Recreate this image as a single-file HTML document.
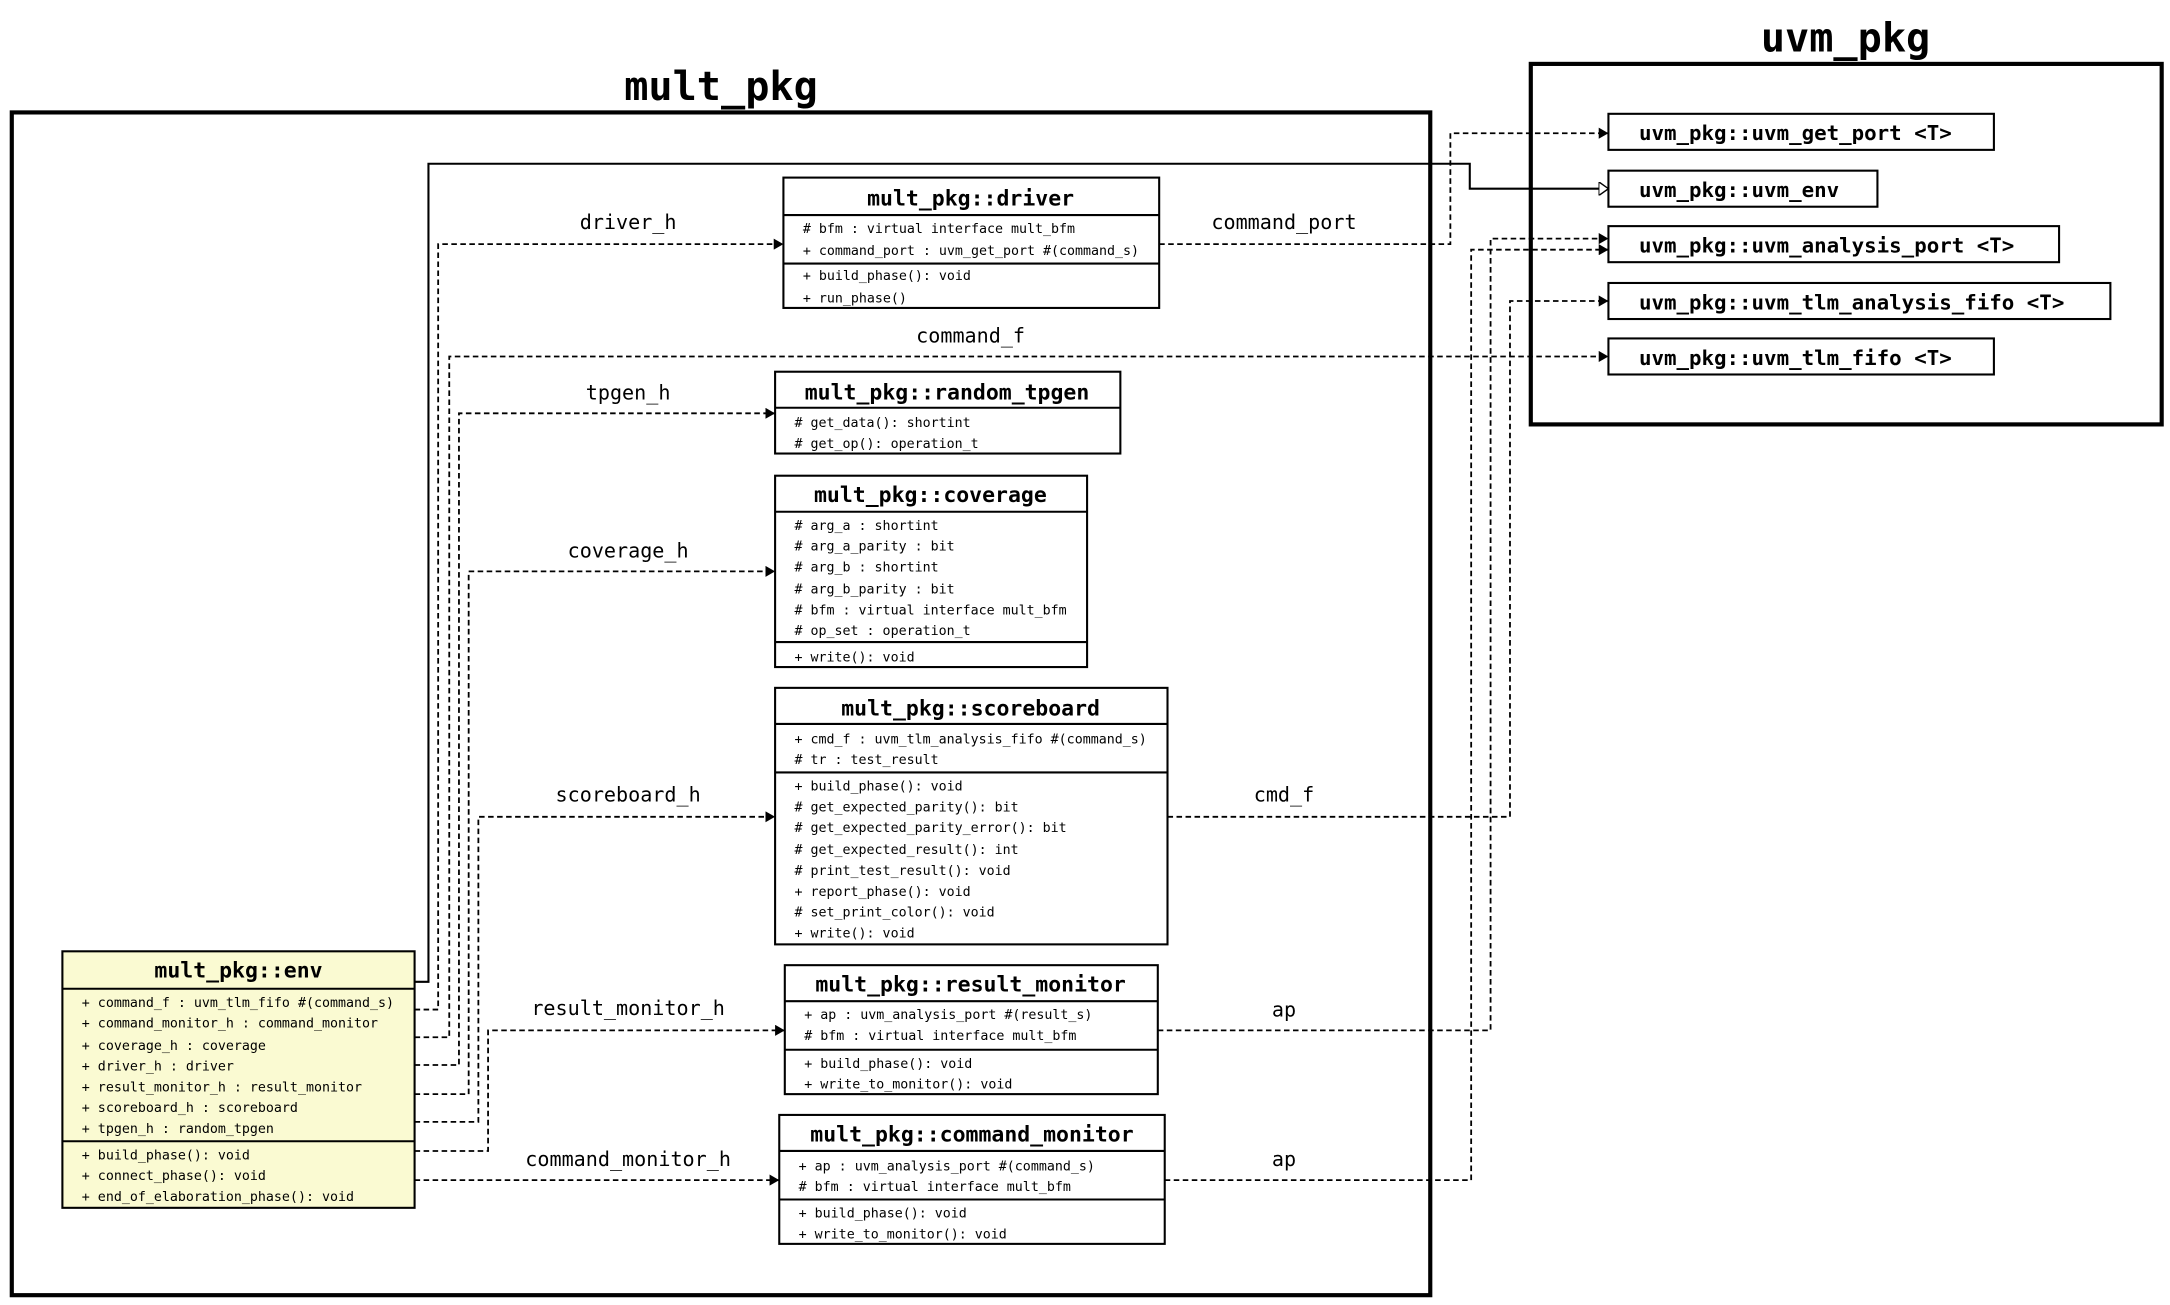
<!DOCTYPE html>
<html><head><meta charset="utf-8"><style>
html,body{margin:0;padding:0;background:#fff;}
svg{display:block;}
.t{font-family:"DejaVu Sans Mono","Liberation Mono",monospace;font-weight:bold;font-size:15.5px;text-anchor:middle;}
.m{font-family:"DejaVu Sans Mono","Liberation Mono",monospace;font-size:9.6px;}
.l{font-family:"DejaVu Sans Mono","Liberation Mono",monospace;font-size:14.5px;text-anchor:middle;}
.p{font-family:"DejaVu Sans Mono","Liberation Mono",monospace;font-weight:bold;font-size:29px;text-anchor:middle;}
.u{font-family:"DejaVu Sans Mono","Liberation Mono",monospace;font-weight:bold;font-size:15px;}
.d{fill:none;stroke:#000;stroke-width:1.3;stroke-dasharray:4,2.5;}
.b{fill:#fff;stroke:#000;stroke-width:1.5;}
.s{stroke:#000;stroke-width:1.5;}
</style></head><body>
<svg width="2170" height="1305" viewBox="0 0 1565 941" xmlns="http://www.w3.org/2000/svg">
<defs>
<marker id="a" markerWidth="8" markerHeight="8" refX="7" refY="4" orient="auto" markerUnits="userSpaceOnUse"><path d="M0,0 L7,4 L0,8 z" fill="#000"/></marker>
<marker id="h" markerWidth="8" markerHeight="10" refX="7" refY="5" orient="auto" markerUnits="userSpaceOnUse"><path d="M0,0 L7,5 L0,10 z" fill="#fff" stroke="#000" stroke-width="1"/></marker>
</defs>
<rect x="0" y="0" width="1565" height="941" fill="#fff"/>
<!-- packages -->
<rect x="8.5" y="81" width="1023" height="853" fill="none" stroke="#000" stroke-width="3"/>
<text class="p" x="520" y="72">mult_pkg</text>
<rect x="1104" y="46" width="455" height="260" fill="none" stroke="#000" stroke-width="3"/>
<text class="p" x="1331" y="37">uvm_pkg</text>

<!-- generalization solid line -->
<path d="M299,708 L309,708 L309,118 L1060,118 L1060,136 L1160,136" fill="none" stroke="#000" stroke-width="1.5" marker-end="url(#h)"/>

<!-- env associations -->
<path class="d" d="M299,728 L316,728 L316,176 L565,176" marker-end="url(#a)"/>
<path class="d" d="M299,748 L324,748 L324,257 L1160,257" marker-end="url(#a)"/>
<path class="d" d="M299,768 L331,768 L331,298 L559,298" marker-end="url(#a)"/>
<path class="d" d="M299,789 L338,789 L338,412 L559,412" marker-end="url(#a)"/>
<path class="d" d="M299,809 L345,809 L345,589 L559,589" marker-end="url(#a)"/>
<path class="d" d="M299,830 L352,830 L352,743 L566,743" marker-end="url(#a)"/>
<path class="d" d="M299,851 L562,851" marker-end="url(#a)"/>
<!-- right side -->
<path class="d" d="M836,176 L1046,176 L1046,96 L1160,96" marker-end="url(#a)"/>
<path class="d" d="M842,589 L1089,589 L1089,217 L1160,217" marker-end="url(#a)"/>
<path class="d" d="M835,743 L1075,743 L1075,172 L1160,172" marker-end="url(#a)"/>
<path class="d" d="M840,851 L1061,851 L1061,180 L1160,180" marker-end="url(#a)"/>

<!-- labels -->
<text class="l" x="453" y="165">driver_h</text>
<text class="l" x="700" y="247">command_f</text>
<text class="l" x="453" y="288">tpgen_h</text>
<text class="l" x="453" y="402">coverage_h</text>
<text class="l" x="453" y="578">scoreboard_h</text>
<text class="l" x="453" y="732">result_monitor_h</text>
<text class="l" x="453" y="841">command_monitor_h</text>
<text class="l" x="926" y="165">command_port</text>
<text class="l" x="926" y="578">cmd_f</text>
<text class="l" x="926" y="733">ap</text>
<text class="l" x="926" y="841">ap</text>

<!-- driver -->
<rect class="b" x="565" y="128" width="271" height="94"/>
<line class="s" x1="565" y1="155" x2="836" y2="155"/><line class="s" x1="565" y1="190" x2="836" y2="190"/>
<text class="t" x="700" y="148">mult_pkg::driver</text>
<g class="m"><text x="579" y="168">#&#160;bfm : virtual interface mult_bfm</text><text x="579" y="184">+ command_port : uvm_get_port #(command_s)</text><text x="579" y="202">+ build_phase(): void</text><text x="579" y="218">+ run_phase()</text></g>

<!-- random_tpgen -->
<rect class="b" x="559" y="268" width="249" height="59"/>
<line class="s" x1="559" y1="294" x2="808" y2="294"/>
<text class="t" x="683" y="288">mult_pkg::random_tpgen</text>
<g class="m"><text x="573" y="308"># get_data(): shortint</text><text x="573" y="323"># get_op(): operation_t</text></g>

<!-- coverage -->
<rect class="b" x="559" y="343" width="225" height="138"/>
<line class="s" x1="559" y1="369" x2="784" y2="369"/><line class="s" x1="559" y1="463" x2="784" y2="463"/>
<text class="t" x="671" y="362">mult_pkg::coverage</text>
<g class="m"><text x="573" y="382"># arg_a : shortint</text><text x="573" y="397"># arg_a_parity : bit</text><text x="573" y="412"># arg_b : shortint</text><text x="573" y="428"># arg_b_parity : bit</text><text x="573" y="443"># bfm : virtual interface mult_bfm</text><text x="573" y="458"># op_set : operation_t</text><text x="573" y="477">+ write(): void</text></g>

<!-- scoreboard -->
<rect class="b" x="559" y="496" width="283" height="185"/>
<line class="s" x1="559" y1="522" x2="842" y2="522"/><line class="s" x1="559" y1="557" x2="842" y2="557"/>
<text class="t" x="700" y="516">mult_pkg::scoreboard</text>
<g class="m"><text x="573" y="536">+ cmd_f : uvm_tlm_analysis_fifo #(command_s)</text><text x="573" y="551"># tr : test_result</text><text x="573" y="570">+ build_phase(): void</text><text x="573" y="585"># get_expected_parity(): bit</text><text x="573" y="600"># get_expected_parity_error(): bit</text><text x="573" y="616"># get_expected_result(): int</text><text x="573" y="631"># print_test_result(): void</text><text x="573" y="646">+ report_phase(): void</text><text x="573" y="661"># set_print_color(): void</text><text x="573" y="676">+ write(): void</text></g>

<!-- result_monitor -->
<rect class="b" x="566" y="696" width="269" height="93"/>
<line class="s" x1="566" y1="722" x2="835" y2="722"/><line class="s" x1="566" y1="757" x2="835" y2="757"/>
<text class="t" x="700" y="715">mult_pkg::result_monitor</text>
<g class="m"><text x="580" y="735">+ ap : uvm_analysis_port #(result_s)</text><text x="580" y="750"># bfm : virtual interface mult_bfm</text><text x="580" y="770">+ build_phase(): void</text><text x="580" y="785">+ write_to_monitor(): void</text></g>

<!-- command_monitor -->
<rect class="b" x="562" y="804" width="278" height="93"/>
<line class="s" x1="562" y1="830" x2="840" y2="830"/><line class="s" x1="562" y1="865" x2="840" y2="865"/>
<text class="t" x="701" y="823">mult_pkg::command_monitor</text>
<g class="m"><text x="576" y="844">+ ap : uvm_analysis_port #(command_s)</text><text x="576" y="859"># bfm : virtual interface mult_bfm</text><text x="576" y="878">+ build_phase(): void</text><text x="576" y="893">+ write_to_monitor(): void</text></g>

<!-- env -->
<rect x="45" y="686" width="254" height="185" fill="#fafad2" stroke="#000" stroke-width="1.5"/>
<line class="s" x1="45" y1="713" x2="299" y2="713"/><line class="s" x1="45" y1="823" x2="299" y2="823"/>
<text class="t" x="172" y="705">mult_pkg::env</text>
<g class="m"><text x="59" y="726">+ command_f : uvm_tlm_fifo #(command_s)</text><text x="59" y="741">+ command_monitor_h : command_monitor</text><text x="59" y="757">+ coverage_h : coverage</text><text x="59" y="772">+ driver_h : driver</text><text x="59" y="787">+ result_monitor_h : result_monitor</text><text x="59" y="802">+ scoreboard_h : scoreboard</text><text x="59" y="817">+ tpgen_h : random_tpgen</text><text x="59" y="836">+ build_phase(): void</text><text x="59" y="851">+ connect_phase(): void</text><text x="59" y="866">+ end_of_elaboration_phase(): void</text></g>

<!-- uvm classes -->
<rect class="b" x="1160" y="82" width="278" height="26"/><text class="u" x="1182" y="101">uvm_pkg::uvm_get_port &lt;T&gt;</text>
<rect class="b" x="1160" y="123" width="194" height="26"/><text class="u" x="1182" y="142">uvm_pkg::uvm_env</text>
<rect class="b" x="1160" y="163" width="325" height="26"/><text class="u" x="1182" y="182">uvm_pkg::uvm_analysis_port &lt;T&gt;</text>
<rect class="b" x="1160" y="204" width="362" height="26"/><text class="u" x="1182" y="223">uvm_pkg::uvm_tlm_analysis_fifo &lt;T&gt;</text>
<rect class="b" x="1160" y="244" width="278" height="26"/><text class="u" x="1182" y="263">uvm_pkg::uvm_tlm_fifo &lt;T&gt;</text>
</svg>
</body></html>
